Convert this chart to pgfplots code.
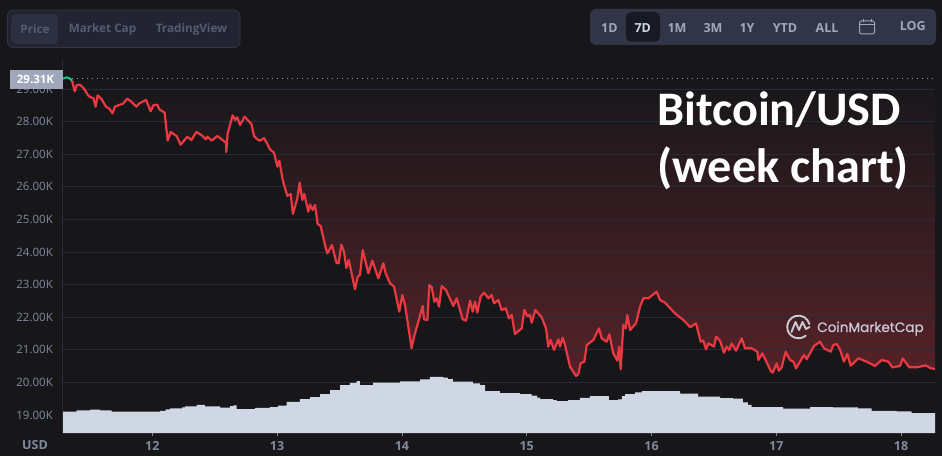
\documentclass[border=0pt]{standalone}
\usepackage{fontspec}
\usepackage{pgfplots}
\usepackage{pgfplotstable}
\pgfplotsset{compat=1.18}
\setmainfont{Open Sans}
\newfontfamily\titlefont{Carlito}
\newfontfamily\logofont{Poppins}[FakeBold=0.6]
\definecolor{bg}{HTML}{17171A}
\definecolor{gridc}{HTML}{2A2B3A}
\definecolor{redl}{HTML}{EA3943}
\definecolor{greenl}{HTML}{16C784}
\definecolor{vol}{HTML}{CFD6E4}
\definecolor{tickc}{HTML}{808A9D}
\definecolor{panelL}{HTML}{222531}
\definecolor{panelLb}{HTML}{323546}
\definecolor{btnL}{HTML}{2D3040}
\definecolor{mutedt}{HTML}{535D72}
\definecolor{panelR}{HTML}{323546}
\definecolor{btnR}{HTML}{171924}
\definecolor{labt}{HTML}{A1A7BB}
\definecolor{gradA}{HTML}{17171A}
\definecolor{gradB}{HTML}{552228}
\definecolor{logoc}{HTML}{C9CCD2}
\pgfplotstableread{
d p
11.2845 29.317
11.314 29.358
11.341 29.317
11.357 29.256
}\greendata
\pgfplotstableread{
d p
11.357 29.256
11.378 28.928
11.394 29.112
11.421 29.133
11.453 29.010
11.485 28.806
11.506 28.744
11.528 28.724
11.546 28.458
11.562 28.806
11.594 28.683
11.629 28.458
11.656 28.397
11.682 28.254
11.701 28.458
11.741 28.519
11.763 28.540
11.800 28.703
11.835 28.601
11.872 28.458
11.896 28.560
11.950 28.663
11.987 28.315
12.008 28.499
12.040 28.519
12.056 28.376
12.099 28.274
12.123 27.415
12.147 27.681
12.195 27.558
12.227 27.292
12.281 27.538
12.313 27.435
12.353 27.681
12.396 27.579
12.430 27.456
12.441 27.538
12.476 27.415
12.521 27.558
12.591 27.354
12.593 27.067
12.604 27.640
12.644 28.192
12.665 28.049
12.681 28.131
12.703 27.896
12.740 28.151
12.794 27.926
12.815 27.558
12.842 27.456
12.863 27.415
12.895 27.497
12.922 27.313
12.943 27.149
12.975 27.047
13.002 26.618
13.018 26.802
13.045 26.209
13.082 25.718
13.109 25.779
13.127 25.166
13.162 25.646
13.181 26.127
13.202 25.595
13.218 25.779
13.250 25.237
13.264 25.452
13.285 25.288
13.304 25.442
13.325 24.859
13.349 24.797
13.387 24.163
13.403 23.959
13.440 24.215
13.475 23.673
13.493 23.652
13.515 24.225
13.536 24.010
13.555 23.509
13.574 23.754
13.624 22.855
13.646 23.243
13.664 23.294
13.686 24.061
13.731 23.345
13.763 23.734
13.811 23.192
13.851 23.652
13.870 23.345
13.905 23.039
13.937 22.936
13.979 22.170
14.003 22.681
14.025 22.374
14.078 21.045
14.097 21.403
14.132 21.863
14.166 22.343
14.177 21.935
14.204 21.914
14.220 22.988
14.239 22.916
14.260 22.476
14.279 22.579
14.297 22.323
14.319 22.957
14.353 22.834
14.412 22.344
14.439 22.579
14.487 21.935
14.514 21.894
14.546 22.507
14.567 22.170
14.586 22.476
14.604 22.139
14.631 22.630
14.658 22.752
14.693 22.579
14.719 22.681
14.738 22.425
14.773 22.528
14.799 22.221
14.832 22.272
14.858 21.965
14.880 22.067
14.906 21.485
14.960 21.658
14.981 22.221
15.005 22.037
15.026 22.067
15.040 21.832
15.069 22.221
15.120 21.996
15.155 21.658
15.173 21.096
15.192 21.300
15.219 20.994
15.254 21.321
15.267 21.096
15.288 21.372
15.307 21.147
15.347 20.483
15.395 20.196
15.414 20.258
15.432 20.585
15.462 20.636
15.481 21.147
15.534 21.300
15.579 21.658
15.601 21.352
15.641 21.250
15.662 21.474
15.694 20.892
15.726 20.667
15.740 21.096
15.753 20.401
15.774 21.761
15.793 21.658
15.806 22.067
15.828 21.607
15.876 21.812
15.908 22.323
15.935 22.579
15.975 22.579
16.041 22.783
16.068 22.528
16.108 22.446
16.188 22.119
16.255 21.914
16.282 21.812
16.309 21.689
16.357 21.812
16.394 21.250
16.415 21.280
16.437 21.014
16.455 21.198
16.501 21.096
16.517 21.403
16.549 21.280
16.581 20.912
16.602 21.096
16.624 20.994
16.642 21.198
16.677 20.973
16.723 21.352
16.749 21.045
16.803 21.045
16.848 20.943
16.856 20.687
16.888 20.892
16.955 20.360
16.971 20.299
17.003 20.585
17.019 20.360
17.043 20.462
17.075 20.943
17.110 20.687
17.137 20.636
17.158 20.432
17.222 20.841
17.243 20.708
17.302 21.117
17.350 21.250
17.382 21.045
17.436 20.943
17.457 21.147
17.484 21.178
17.510 21.014
17.542 20.636
17.569 20.871
17.596 20.513
17.657 20.738
17.724 20.636
17.791 20.503
17.844 20.687
17.898 20.636
17.930 20.462
17.991 20.503
18.013 20.738
18.066 20.462
18.125 20.462
18.200 20.524
18.232 20.442
18.272 20.411
}\reddata
\pgfplotstableread{
d v
11.2845 19.101
11.394 19.144
11.501 19.163
11.581 19.144
11.675 19.101
12.062 19.123
12.107 19.175
12.142 19.206
12.238 19.236
12.262 19.267
12.356 19.307
12.422 19.267
12.543 19.230
12.596 19.224
12.623 19.276
12.649 19.298
12.676 19.184
12.823 19.215
12.943 19.245
13.007 19.291
13.077 19.399
13.183 19.491
13.264 19.552
13.344 19.644
13.424 19.767
13.504 19.920
13.584 19.982
13.638 20.043
13.664 19.920
13.769 19.991
13.985 20.034
14.145 20.095
14.225 20.166
14.332 20.144
14.369 20.104
14.409 20.021
14.569 19.972
14.626 19.920
14.666 19.736
14.786 19.675
14.946 19.644
15.040 19.592
15.083 19.534
15.107 19.491
15.211 19.460
15.240 19.429
15.331 19.460
15.427 19.522
15.507 19.583
15.659 19.460
15.731 19.482
15.763 19.583
15.788 19.644
15.868 19.696
15.922 19.736
16.149 19.736
16.229 19.653
16.373 19.561
16.549 19.521
16.653 19.500
16.733 19.390
16.773 19.307
16.803 19.245
17.054 19.193
17.270 19.245
17.454 19.236
17.654 19.206
17.764 19.123
17.965 19.113
18.085 19.061
18.272 19.061
}\voldata
\begin{document}
\begin{tikzpicture}[x=1pt,y=1pt]
\useasboundingbox (0,0) rectangle (942,456);
\fill[bg] (0,0) rectangle (942,456);
\path[top color=gradA,bottom color=gradB] (63,377) rectangle (935,81);
\begin{axis}[
  at={(63pt,23pt)},anchor=south west,
  scale only axis,width=872pt,height=374pt,
  xmin=11.2845,xmax=18.2716,ymin=18.448,ymax=29.92,
  clip=true,
  xtick={12,13,14,15,16,17,18},
  ytick={19,20,21,22,23,24,25,26,27,28,29},
  yticklabels={19.00K,20.00K,21.00K,22.00K,23.00K,24.00K,25.00K,26.00K,27.00K,28.00K,29.00K},
  axis line style={draw=none},
  tick align=outside,
  xtick pos=lower,ytick pos=left,
  major tick length=3pt,
  y tick style={draw=none},
  x tick style={color=tickc,line width=0.8pt},
  yticklabel style={font=\fontsize{11.5}{12}\selectfont,text=tickc,inner sep=0pt,xshift=-7pt},
  xticklabel style={font=\fontsize{12.5}{12}\selectfont\bfseries,text=tickc,inner sep=0pt,yshift=-5pt},
  /pgf/number format/assume math mode=true,
]
\addplot[fill=bg,draw=none] table[x=d,y=p] {\greendata} \closedcycle;
\addplot[fill=bg,draw=none] table[x=d,y=p] {\reddata} \closedcycle;
\pgfplotsinvokeforeach{19,20,21,22,23,24,25,26,27,28,29}{
  \addplot[gridc,line width=0.9pt] coordinates {(11.2845,#1) (18.2716,#1)};
}
\addplot[const plot,fill=vol,draw=none] table[x=d,y=v] {\voldata} \closedcycle;
\addplot[color=tickc!90!white,line width=0.8pt,dash pattern=on 1pt off 4pt] coordinates {(11.36,29.31) (18.2716,29.31)};
\addplot[redl,line width=2.2pt,line join=round] table[x=d,y=p] {\reddata};
\addplot[greenl,line width=2pt,line join=round] table[x=d,y=p] {\greendata};
\end{axis}
\draw[gridc,line width=0.9pt] (62.5,23) -- (62.5,397);
% price label
\fill[labt] (10,367.3) rectangle (63,386);
\node[text=white,font=\fontsize{11.5}{12}\selectfont\bfseries] at (35.5,376.8) {29.31K};
\node[text=tickc,font=\fontsize{12.5}{12}\selectfont\bfseries] at (35,11) {USD};
% left panel
\draw[fill=panelL,draw=panelLb,line width=0.8pt,rounded corners=6pt] (7.5,408.5) rectangle (240,446);
\fill[btnL,rounded corners=5pt] (11,412) rectangle (58,442);
\node[text=mutedt,font=\fontsize{11.7}{12}\selectfont\bfseries] at (35,427) {Price};
\node[text=mutedt,font=\fontsize{11.7}{12}\selectfont\bfseries] at (102.5,427) {Market Cap};
\node[text=mutedt,font=\fontsize{11.7}{12}\selectfont\bfseries] at (191.5,427) {TradingView};
% right panel
\fill[panelR,rounded corners=6pt] (590,411) rectangle (936,447);
\fill[btnR,rounded corners=5pt] (626,414.3) rectangle (660,444);
\foreach \xx/\tt in {609.3/1D,677/1M,713/3M,747/1Y,785/YTD,827/ALL}{
  \node[text=labt,font=\fontsize{12.5}{12}\selectfont\bfseries] at (\xx,428) {\tt};
}
\node[text=vol,font=\fontsize{12.5}{12}\selectfont\bfseries] at (642.7,428) {7D};
\node[text=labt,font=\fontsize{12.5}{12}\selectfont\bfseries] at (912.7,429.5) {LOG};
% calendar icon
\draw[labt,line width=1pt,rounded corners=1.5pt] (859.5,422) rectangle (874.5,435);
\draw[labt,line width=1pt] (859.5,431) -- (874.5,431);
\draw[labt,line width=1pt] (863,433.5) -- (863,436.5) (871,433.5) -- (871,436.5);
% title
\node[anchor=base west,inner sep=0pt,text=white,font=\titlefont\fontsize{48.2}{48}\selectfont\bfseries] at (657,330) {Bitcoin/USD};
\node[anchor=base west,inner sep=0pt,text=white,font=\titlefont\fontsize{48.2}{48}\selectfont\bfseries] at (657,273) {(week chart)};
% logo
\draw[logoc,line width=1.9pt,line cap=round] (809.4,132) arc[start angle=15,end angle=310,radius=11.3];
\draw[logoc,line width=1.9pt,line cap=round,line join=round] (791.5,124) -- (795.5,134) -- (799,126) -- (802.5,134) -- (806,127) -- (809.5,129);
\node[anchor=base west,inner sep=0pt,text=logoc,font=\logofont\fontsize{13.6}{13}\selectfont] at (817,124) {CoinMarketCap};
\end{tikzpicture}
\end{document}
